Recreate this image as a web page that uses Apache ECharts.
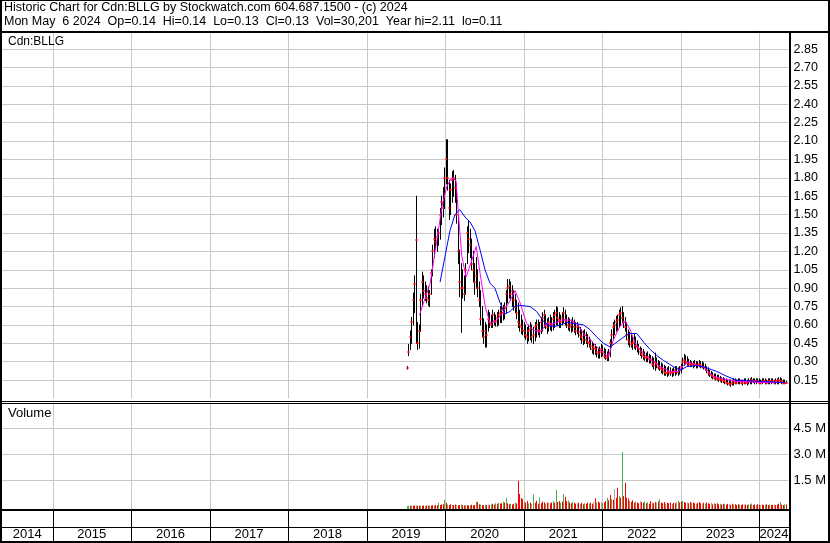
<!DOCTYPE html>
<html><head><meta charset="utf-8">
<script src="https://cdn.jsdelivr.net/npm/echarts@6/dist/echarts.min.js"></script>
<style>html,body{margin:0;padding:0;background:#fff}#c{width:830px;height:543px}</style>
</head><body><div id="c"></div>
<script>
// ---------- DATA ----------
const yearLabels = ['2014','2015','2016','2017','2018','2019','2020','2021','2022','2023','2024'];
const xStart = '2014-05-11', xEnd = '2024-05-15';
const firstWeek = '2019-07-05';   // weekly bars, one per week from here
const priceTicks = { min: 0, max: 3.0, step: 0.15 };
const volTickValues = [1.5, 3.0, 4.5];   // millions

const lo = [
.24,.35,.40,.45,.60,.70,.45,.40,.41,.55,
.75,.82,.80,.78,.76,.75,.85,1.00,1.15,1.22,
1.20,1.25,1.30,1.42,1.48,1.55,1.75,1.70,1.46,1.50,
1.60,1.65,1.60,1.43,1.10,.83,.54,.82,.80,.85,
1.10,1.19,1.15,1.05,.95,.85,.90,.83,.75,.60,
.50,.45,.42,.42,.55,.58,.58,.58,.60,.59,
.59,.60,.62,.62,.64,.65,.70,.78,.82,.80,
.75,.72,.70,.65,.58,.55,.53,.52,.50,.48,
.45,.47,.48,.46,.45,.47,.50,.52,.50,.53,
.55,.58,.57,.53,.55,.56,.55,.56,.58,.60,
.60,.58,.58,.60,.62,.60,.58,.56,.55,.54,
.55,.54,.52,.53,.50,.48,.45,.44,.45,.45,
.42,.42,.40,.37,.36,.36,.34,.33,.33,.34,
.35,.33,.32,.31,.31,.34,.42,.48,.52,.55,
.56,.58,.60,.62,.58,.55,.48,.44,.42,.42,
.40,.41,.40,.38,.36,.35,.33,.32,.31,.30,
.30,.29,.29,.26,.24,.23,.25,.24,.23,.21,
.20,.19,.19,.18,.19,.19,.18,.19,.19,.20,
.19,.20,.21,.24,.27,.28,.27,.27,.26,.26,
.25,.26,.25,.25,.26,.25,.25,.24,.23,.21,
.19,.18,.17,.16,.16,.15,.15,.14,.14,.13,
.13,.12,.12,.11,.11,.10,.11,.11,.12,.12,
.12,.12,.12,.11,.12,.12,.11,.12,.12,.12,
.13,.12,.12,.13,.12,.12,.12,.13,.12,.12,
.12,.12,.12,.13,.12,.12,.12,.12,.13,.12,
.12,.12,.13];
const hi = [
.26,.44,.55,.66,.86,1.00,1.65,.62,.60,.85,
1.03,1.00,.95,.92,.91,.88,1.05,1.25,1.38,1.40,
1.38,1.38,1.55,1.65,1.72,1.88,2.11,2.11,1.78,1.75,
1.85,1.86,1.82,1.75,1.50,1.21,1.10,1.05,1.00,1.10,
1.40,1.45,1.38,1.30,1.20,1.10,1.15,1.05,.95,.88,
.75,.65,.62,.60,.72,.70,.68,.72,.70,.68,
.70,.72,.75,.78,.76,.78,.88,.97,.97,.95,
.92,.88,.85,.80,.78,.72,.68,.64,.62,.60,
.58,.60,.62,.60,.58,.62,.64,.64,.62,.66,
.70,.72,.68,.65,.66,.68,.66,.70,.72,.75,
.74,.70,.68,.70,.74,.72,.68,.66,.65,.64,
.66,.64,.62,.62,.60,.58,.56,.55,.56,.54,
.52,.50,.48,.46,.45,.44,.42,.41,.42,.44,
.43,.41,.40,.38,.40,.48,.56,.62,.64,.67,
.68,.72,.74,.75,.70,.66,.62,.56,.54,.52,
.50,.52,.50,.47,.44,.42,.41,.40,.38,.37,
.38,.36,.35,.34,.33,.37,.33,.31,.30,.29,
.28,.27,.26,.25,.26,.25,.24,.25,.26,.26,
.25,.26,.28,.33,.36,.35,.34,.32,.31,.30,
.30,.31,.30,.30,.31,.30,.30,.29,.28,.26,
.25,.23,.22,.21,.20,.20,.19,.19,.18,.17,
.17,.16,.16,.15,.15,.15,.15,.16,.16,.15,
.16,.16,.15,.15,.16,.16,.15,.16,.16,.17,
.16,.16,.16,.16,.16,.15,.16,.16,.16,.15,
.16,.16,.16,.16,.15,.16,.16,.17,.17,.16,
.15,.15,.14];
const close = [
.25,.38,.50,.62,.80,.93,1.29,.45,.55,.80,
.95,.88,.85,.82,.80,.85,1.02,1.20,1.30,1.28,
1.32,1.35,1.50,1.60,1.55,1.80,1.95,1.80,1.55,1.70,
1.78,1.80,1.72,1.50,1.20,.95,.90,.90,.85,1.05,
1.35,1.30,1.25,1.10,1.05,.95,1.00,.90,.80,.65,
.55,.50,.55,.52,.65,.62,.60,.68,.63,.62,
.66,.68,.70,.72,.70,.75,.85,.90,.92,.85,
.88,.80,.75,.70,.62,.60,.58,.56,.55,.52,
.50,.55,.57,.50,.52,.58,.60,.56,.55,.62,
.66,.68,.60,.58,.62,.60,.60,.65,.68,.70,
.66,.64,.62,.66,.70,.64,.62,.60,.58,.60,
.62,.58,.55,.58,.54,.52,.50,.48,.52,.48,
.46,.45,.43,.40,.42,.40,.38,.36,.38,.40,
.38,.35,.34,.33,.36,.45,.52,.58,.60,.62,
.64,.68,.70,.66,.62,.58,.52,.48,.46,.44,
.45,.46,.43,.42,.40,.38,.36,.35,.34,.33,
.34,.32,.31,.28,.27,.30,.28,.26,.25,.24,
.23,.22,.21,.21,.22,.21,.21,.22,.23,.22,
.22,.23,.26,.30,.31,.30,.29,.28,.28,.27,
.27,.28,.27,.27,.28,.27,.26,.26,.25,.23,
.21,.20,.19,.18,.17,.17,.16,.16,.15,.15,
.14,.14,.13,.13,.12,.12,.13,.14,.13,.13,
.14,.14,.13,.13,.14,.13,.13,.14,.14,.15,
.14,.14,.14,.14,.13,.13,.14,.14,.14,.13,
.14,.14,.14,.14,.13,.14,.14,.15,.14,.14,
.13,.13,.13];
// weekly volume, millions of shares
const volume = [
.02,.03,.03,.04,.03,.04,.05,.03,.03,.04,
.03,.04,.03,.04,.03,.05,.04,.06,.05,.08,
.06,.21,.08,.10,.12,.36,.20,.10,.08,.12,
.09,.07,.10,.08,.06,.08,.10,.06,.05,.08,
.06,.05,.07,.09,.06,.08,.27,.25,.12,.10,
.08,.06,.09,.07,.10,.08,.12,.15,.10,.18,
.14,.20,.16,.18,.28,.22,.50,.18,.12,.15,
.10,.14,.21,.16,1.48,.71,.48,.40,.25,.20,
.30,.18,.22,.15,.70,.20,.32,.15,.52,.18,
.27,.22,.16,.20,.24,.18,.22,.30,.20,.94,
.25,.30,.20,.28,.71,.55,.30,.33,.22,.18,
.25,.20,.15,.18,.22,.14,.20,.12,.18,.15,
.22,.16,.20,.14,.25,.46,.22,.28,.20,.25,
.18,.22,.30,.48,.35,.65,.42,.38,1.00,.50,
1.07,.60,.50,3.13,.60,1.36,.50,.45,.30,.25,
.35,.20,.28,.22,.18,.30,.25,.20,.28,.18,
.25,.15,.30,.22,.18,.25,.20,.28,.40,.22,
.18,.25,.15,.20,.18,.22,.15,.20,.18,.25,
.30,.22,.28,.30,.25,.20,.22,.18,.25,.20,
.22,.18,.15,.20,.25,.18,.16,.20,.15,.22,
.18,.15,.20,.12,.16,.14,.18,.12,.15,.10,
.14,.12,.10,.15,.12,.09,.14,.10,.12,.08,
.12,.10,.08,.12,.09,.10,.08,.12,.10,.16,
.08,.10,.07,.12,.09,.08,.10,.07,.09,.12,
.08,.10,.07,.09,.12,.08,.10,.14,.25,.10,
.08,.12,.10];
// g = up, r = down, n = unchanged
const volDir =
 'ggrgrrgrrg'+'rrgrrgrrgr'+'rgrrrgrgrr'+'grrnrrgrrg'+'rrgrrrgrrg'+
 'rrgrnrgrrg'+'rgrrgrgrrg'+'rrgrrrrrgr'+'rgrngrrrgr'+'rrgrnrrgrg'+
 'rrgrgrrgrr'+'grrnrgrrgr'+'rgrrnrgrrn'+'grrgrrgrnr'+'rgrgrrrrgr'+
 'rrgrrnrrgr'+'grrgrrnrgr'+'rrgrrrgrrn'+'grrgrrnrrg'+'rrgrrrnrgr'+
 'rrnrgrrrgr'+'rgrrnrrgrr'+'rgrrnrrgrg'+'rrgrrnrrgr'+'rgrrnrrrgr'+'rgr';

const maShortDates = ['2019-09-03','2019-10-23','2019-11-23','2019-12-16','2020-01-08','2020-01-31','2020-02-20','2020-03-02','2020-03-18','2020-04-07','2020-05-04','2020-05-24','2020-06-11','2020-07-05','2020-07-28','2020-08-28','2020-09-28','2020-10-29','2020-11-21','2020-12-14','2021-01-14','2021-02-13','2021-03-17','2021-04-17','2021-05-18','2021-06-26','2021-08-04','2021-09-04','2021-10-05','2021-11-05','2021-12-06','2022-01-06','2022-01-29','2022-02-21','2022-03-24','2022-04-17','2022-05-10','2022-06-02','2022-06-25','2022-07-26','2022-08-26','2022-09-26','2022-11-12','2022-12-20','2023-01-12','2023-02-04','2023-03-15','2023-04-15','2023-05-08','2023-06-01','2023-07-17','2023-09-17','2024-01-04','2024-04-30'];
const maShortVals = [0.68,0.94,1.29,1.56,1.73,1.80,1.78,1.51,1.16,0.99,1.13,1.24,1.02,0.75,0.61,0.64,0.71,0.80,0.88,0.78,0.61,0.56,0.54,0.61,0.61,0.64,0.64,0.61,0.53,0.48,0.42,0.37,0.34,0.48,0.59,0.63,0.56,0.45,0.40,0.34,0.30,0.26,0.22,0.22,0.27,0.30,0.27,0.26,0.22,0.18,0.16,0.14,0.13,0.13];
const maLongDates = ['2019-12-08','2019-12-31','2020-01-23','2020-02-15','2020-03-09','2020-04-02','2020-04-25','2020-05-18','2020-06-11','2020-07-04','2020-07-27','2020-08-19','2020-09-12','2020-10-05','2020-10-28','2020-11-20','2020-12-13','2021-01-29','2021-03-01','2021-04-01','2021-05-02','2021-06-02','2021-07-19','2021-09-04','2021-10-05','2021-11-05','2021-12-06','2022-01-06','2022-02-06','2022-03-01','2022-04-01','2022-05-02','2022-06-10','2022-07-11','2022-08-11','2022-09-11','2022-10-12','2022-11-27','2022-12-28','2023-01-28','2023-03-15','2023-05-01','2023-06-17','2023-08-03','2023-09-17','2023-11-03','2024-01-05','2024-04-30'];
const maLongVals = [0.95,1.16,1.37,1.50,1.54,1.48,1.44,1.37,1.21,1.05,0.94,0.90,0.78,0.69,0.71,0.75,0.76,0.75,0.71,0.63,0.59,0.59,0.62,0.61,0.60,0.56,0.50,0.45,0.42,0.45,0.49,0.53,0.53,0.46,0.40,0.35,0.31,0.26,0.23,0.26,0.27,0.25,0.22,0.18,0.15,0.145,0.14,0.13];

const headerLine1 = 'Historic Chart for Cdn:BLLG by Stockwatch.com 604.687.1500 - (c) 2024';
const headerLine2 = 'Mon May  6 2024  Op=0.14  Hi=0.14  Lo=0.13  Cl=0.13  Vol=30,201  Year hi=2.11  lo=0.11';
const symbolLabel = 'Cdn:BLLG';
const volumeLabel = 'Volume';

// ---------- BUILD ----------
function ts(s){ const p = s.split('-').map(Number); return new Date(p[0], p[1]-1, p[2]).getTime(); }
const X_MIN = ts(xStart), X_MAX = ts(xEnd);
const fw = firstWeek.split('-').map(Number);
const weekTs = hi.map((_, i) => new Date(fw[0], fw[1]-1, fw[2] + 7*i).getTime());
const barData = weekTs.map((t, i) => [t, lo[i], hi[i], close[i]]);
const volData = weekTs.map((t, i) => [t, volume[i], volDir[i]]);
const yearStarts = yearLabels.slice(1).map(y => [ts(y + '-01-01')]);
const yearSpans = yearLabels.map(y => [ts(y + '-01-01'), ts((+y + 1) + '-01-01'), y]);
const VOL_MIN = -0.156, VOL_MAX = 6.0;
const FONT = '"Liberation Sans", Arial, sans-serif';
const GRID_C = '#c8c8c8';
const volColors = { g: '#4cb04c', r: '#ff0000', n: '#a8a8a8' };

function yearGrid(params, api) {
  const cs = params.coordSys;
  const x = Math.round(api.coord([api.value(0), 0])[0]) + 0.5;
  return { type: 'line', shape: { x1: x, y1: cs.y, x2: x, y2: cs.y + cs.height },
           style: { stroke: GRID_C, lineWidth: 1 } };
}

const L = 2, R = 830 - 788.5;
const chart = echarts.init(document.getElementById('c'), null, { renderer: 'canvas' });
chart.setOption({
  animation: false,
  backgroundColor: '#fff',
  grid: [
    { left: L, right: R, top: 30.7, height: 367.8 },
    { left: L, right: R, top: 402.3, height: 106.7 },
    { left: L, right: R, top: 510, height: 31 }
  ],
  xAxis: [0, 1, 2].map(g => ({
    type: 'time', gridIndex: g, min: X_MIN, max: X_MAX,
    axisLine: { show: false }, axisTick: { show: false }, axisLabel: { show: false }, splitLine: { show: false }
  })),
  yAxis: [
    { type: 'value', gridIndex: 0, position: 'right', min: priceTicks.min, max: priceTicks.max, interval: priceTicks.step,
      axisLine: { show: false }, axisTick: { show: false },
      axisLabel: { margin: 5, color: '#000', fontSize: 12.5, fontFamily: FONT, showMinLabel: false, showMaxLabel: false,
                   formatter: v => v.toFixed(2) },
      splitLine: { show: true, showMinLine: false, showMaxLine: false, lineStyle: { color: GRID_C, width: 1 } } },
    { type: 'value', gridIndex: 1, position: 'right', min: VOL_MIN, max: VOL_MAX,
      axisLine: { show: false }, axisTick: { show: false }, splitLine: { show: false },
      axisLabel: { margin: 5, color: '#000', fontSize: 13, fontFamily: FONT, customValues: volTickValues,
                   formatter: v => v.toFixed(1) + ' M' } },
    { type: 'value', gridIndex: 2, min: 0, max: 1, show: false }
  ],
  series: [
    { type: 'custom', xAxisIndex: 0, yAxisIndex: 0, z: 1, silent: true, data: yearStarts, renderItem: yearGrid },
    { type: 'custom', xAxisIndex: 0, yAxisIndex: 0, z: 2, silent: true, data: barData,
      encode: { x: 0, y: [1, 2, 3] },
      renderItem(params, api) {
        const t = api.value(0);
        const pLo = api.coord([t, api.value(1)]);
        const pHi = api.coord([t, api.value(2)]);
        const pCl = api.coord([t, api.value(3)]);
        const x = Math.round(pLo[0]) + 0.5;
        return { type: 'group', children: [
          { type: 'line', shape: { x1: x, y1: pLo[1] + 0.5, x2: x, y2: pHi[1] - 0.5 }, style: { stroke: '#000', lineWidth: 1 } },
          { type: 'rect', shape: { x: x - 1, y: Math.round(pCl[1]) - 1, width: 2, height: 2 }, style: { fill: '#ff0000' } }
        ]};
      } },
    { type: 'line', xAxisIndex: 0, yAxisIndex: 0, z: 3, silent: true, showSymbol: false,
      data: maShortDates.map((d, i) => [ts(d), maShortVals[i]]),
      lineStyle: { color: '#ff00ff', width: 1 } },
    { type: 'line', xAxisIndex: 0, yAxisIndex: 0, z: 4, silent: true, showSymbol: false,
      data: maLongDates.map((d, i) => [ts(d), maLongVals[i]]),
      lineStyle: { color: '#0000ff', width: 1 } },
    { type: 'custom', xAxisIndex: 1, yAxisIndex: 1, z: 1, silent: true, data: yearStarts, renderItem: yearGrid },
    { type: 'custom', xAxisIndex: 1, yAxisIndex: 1, z: 1, silent: true, data: volTickValues.map(v => [X_MIN, v]),
      renderItem(params, api) {
        const cs = params.coordSys;
        const y = Math.round(api.coord([api.value(0), api.value(1)])[1]) + 0.5;
        return { type: 'line', shape: { x1: cs.x, y1: y, x2: cs.x + cs.width, y2: y }, style: { stroke: GRID_C, lineWidth: 1 } };
      } },
    { type: 'custom', xAxisIndex: 1, yAxisIndex: 1, z: 2, silent: true, data: volData,
      encode: { x: 0, y: 1 },
      renderItem(params, api) {
        const t = api.value(0);
        const top = api.coord([t, api.value(1)]);
        const base = api.coord([t, VOL_MIN]);
        const x = Math.round(top[0]);
        return { type: 'rect', shape: { x: x, y: top[1], width: 1, height: base[1] - top[1] },
                 style: { fill: volColors[volData[params.dataIndex][2]] } };
      } },
    { type: 'custom', xAxisIndex: 2, yAxisIndex: 2, z: 3, silent: true, data: yearSpans,
      renderItem(params, api) {
        const cs = params.coordSys;
        const s = Math.max(yearSpans[params.dataIndex][0], X_MIN);
        const e = Math.min(yearSpans[params.dataIndex][1], X_MAX);
        const x0 = api.coord([s, 0])[0], x1 = api.coord([e, 0])[0];
        const kids = [{ type: 'text', style: { text: yearSpans[params.dataIndex][2], x: (x0 + x1) / 2, y: cs.y + cs.height - 6.5,
          align: 'center', verticalAlign: 'middle', font: '13px ' + FONT, fill: '#000' } }];
        if (yearSpans[params.dataIndex][1] < X_MAX) {
          const xs = Math.round(x1) + 0.5;
          kids.push({ type: 'line', shape: { x1: xs, y1: cs.y, x2: xs, y2: cs.y + cs.height }, style: { stroke: '#000', lineWidth: 1 } });
        }
        return { type: 'group', children: kids };
      } }
  ],
  graphic: [
    { type: 'rect', shape: { x: 0, y: 0, width: 830, height: 1 }, style: { fill: '#000' }, z: 100 },
    { type: 'rect', shape: { x: 0, y: 0, width: 2, height: 543 }, style: { fill: '#000' }, z: 100 },
    { type: 'rect', shape: { x: 828, y: 0, width: 2, height: 543 }, style: { fill: '#000' }, z: 100 },
    { type: 'rect', shape: { x: 0, y: 31, width: 830, height: 2 }, style: { fill: '#000' }, z: 100 },
    { type: 'rect', shape: { x: 789, y: 31, width: 2, height: 512 }, style: { fill: '#000' }, z: 100 },
    { type: 'rect', shape: { x: 0, y: 401, width: 830, height: 1 }, style: { fill: '#000' }, z: 100 },
    { type: 'rect', shape: { x: 0, y: 403, width: 830, height: 1 }, style: { fill: '#000' }, z: 100 },
    { type: 'rect', shape: { x: 0, y: 509, width: 790, height: 2 }, style: { fill: '#000' }, z: 100 },
    { type: 'rect', shape: { x: 0, y: 527, width: 790, height: 1 }, style: { fill: '#000' }, z: 100 },
    { type: 'rect', shape: { x: 0, y: 541, width: 830, height: 2 }, style: { fill: '#000' }, z: 100 },
    { type: 'text', x: 4, y: 8, style: { text: headerLine1, font: '12.5px ' + FONT, fill: '#000', verticalAlign: 'middle' }, z: 100 },
    { type: 'text', x: 4, y: 22, style: { text: headerLine2, font: '12.5px ' + FONT, fill: '#000', verticalAlign: 'middle' }, z: 100 },
    { type: 'text', x: 8, y: 41.5, style: { text: symbolLabel, font: '12px ' + FONT, fill: '#000', verticalAlign: 'middle' }, z: 100 },
    { type: 'text', x: 8, y: 413, style: { text: volumeLabel, font: '13px ' + FONT, fill: '#000', verticalAlign: 'middle' }, z: 100 }
  ]
});
</script></body></html>
